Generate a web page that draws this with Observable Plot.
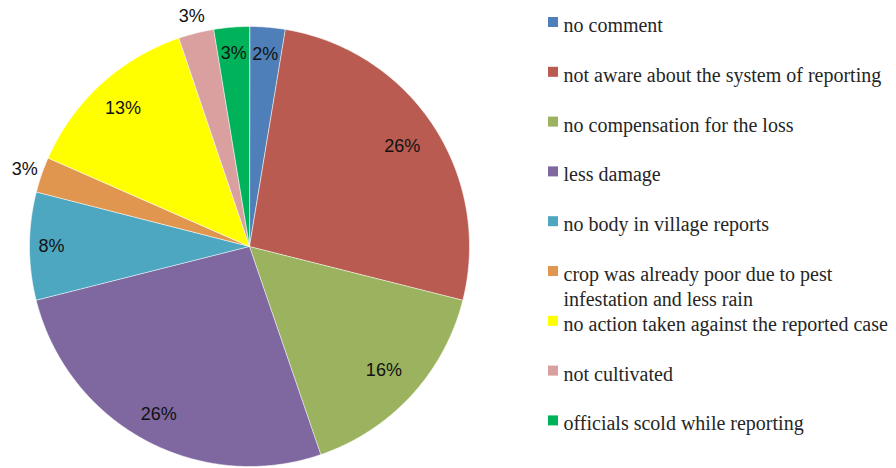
<!DOCTYPE html>
<html>
<head>
<meta charset="utf-8">
<script src="https://cdn.jsdelivr.net/npm/d3@7"></script>
<script src="https://cdn.jsdelivr.net/npm/@observablehq/plot@0.6"></script>
<style>
  html, body { margin: 0; padding: 0; background: #fff; }
  #chart svg { display: block; }
</style>
</head>
<body>
<div id="chart"></div>
<script>
// ---- data ----
const categories = [
  "no comment",
  "not aware about the system of reporting",
  "no compensation for the loss",
  "less damage",
  "no body in village reports",
  "crop was already poor due to pest\ninfestation and less rain",
  "no action taken against the reported case",
  "not cultivated",
  "officials scold while reporting"
];
const values = [2.6, 26.3, 15.8, 26.3, 7.9, 2.6, 13.2, 2.6, 2.6];
const pctLabels = ["2%", "26%", "16%", "26%", "8%", "3%", "13%", "3%", "3%"];
const colors = ["#4F7FB9", "#B95B50", "#9BB35E", "#7F67A0", "#4DA7C0", "#E0964F", "#FFFF00", "#D9A09F", "#00B35A"];

// ---- layout ----
const W = 896, H = 468;
const cx = 249, cy = 246, R = 220;
// label distance from centre, as a fraction of the radius (Excel "best fit" placement)
const labelRadius = [0.875, 0.83, 0.83, 0.865, 0.9, 1.08, 0.85, 1.08, 0.88];

const arcs = d3.pie().sort(null).value(d => d)(values);
const slicePts = [];
arcs.forEach((a, i) => {
  slicePts.push({cat: categories[i], x: cx, y: cy});
  const n = Math.max(4, Math.ceil((a.endAngle - a.startAngle) / 0.01));
  for (let k = 0; k <= n; k++) {
    const t = a.startAngle + (a.endAngle - a.startAngle) * k / n;
    slicePts.push({cat: categories[i], x: cx + R * Math.sin(t), y: cy - R * Math.cos(t)});
  }
});

const labelData = arcs.map((a, i) => {
  const m = (a.startAngle + a.endAngle) / 2;
  const rr = R * labelRadius[i];
  return {label: pctLabels[i], x: cx + rr * Math.sin(m), y: cy - rr * Math.cos(m)};
});

const legendX = 548, legendTop = 17, legendStep = 49.8, sq = 10;
const legendData = categories.map((c, i) => ({
  cat: c,
  x1: legendX, x2: legendX + sq,
  y1: legendTop + legendStep * i, y2: legendTop + legendStep * i + sq,
  tx: legendX + 15, ty: legendTop + legendStep * i - 3.3
}));

const chart = Plot.plot({
  width: W, height: H,
  margin: 0,
  x: {domain: [0, W], range: [0, W], axis: null},
  y: {domain: [0, H], range: [0, H], axis: null},
  color: {domain: categories, range: colors},
  marks: [
    Plot.line(slicePts, {x: "x", y: "y", z: "cat", fill: "cat", stroke: "#ffffff", strokeWidth: 0.8, strokeOpacity: 0.7, curve: "linear-closed"}),
    Plot.text(labelData, {x: "x", y: "y", text: "label", fill: "#111", fontSize: 18, fontFamily: "'Liberation Sans', sans-serif"}),
    Plot.rect(legendData, {x1: "x1", x2: "x2", y1: "y1", y2: "y2", fill: "cat"}),
    Plot.text(legendData, {x: "tx", y: "ty", text: "cat", textAnchor: "start", lineAnchor: "top", lineHeight: 1.25, fontSize: 20, fill: "#262626", fontFamily: "'Liberation Serif', 'Times New Roman', serif"})
  ]
});
document.getElementById("chart").appendChild(chart);
</script>
</body>
</html>
